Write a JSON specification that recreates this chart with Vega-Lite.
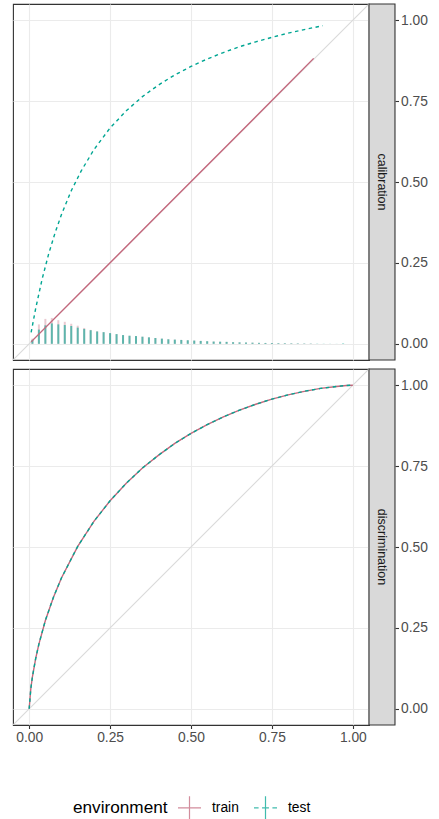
{
  "$schema": "https://vega.github.io/schema/vega-lite/v6.json",
  "padding": {"left": 12, "top": 2, "right": 5, "bottom": 0},
  "background": "white",
  "config": {
    "font": "Liberation Sans",
    "view": {"stroke": "#333333", "strokeWidth": 1.1},
    "concat": {"spacing": 5},
    "axis": {"gridColor": "#EBEBEB", "gridWidth": 1.1, "tickColor": "#333333", "tickSize": 3.5, "tickWidth": 1.1, "labelColor": "#4D4D4D", "labelFontSize": 13.8, "labelFont": "Liberation Sans", "domain": false, "labelPadding": 2}
  },
  "datasets": {
    "diag": [{"x": -0.05, "y": -0.05}, {"x": 1.05, "y": 1.05}],
    "calib": [
      {"env": "train", "x": 0.006, "y": 0.006}, {"env": "train", "x": 0.2, "y": 0.2}, {"env": "train", "x": 0.4, "y": 0.401}, {"env": "train", "x": 0.6, "y": 0.601}, {"env": "train", "x": 0.879, "y": 0.882},
      {"env": "test", "x": 0.006, "y": 0.035}, {"env": "test", "x": 0.02, "y": 0.109}, {"env": "test", "x": 0.04, "y": 0.2}, {"env": "test", "x": 0.06, "y": 0.277}, {"env": "test", "x": 0.08, "y": 0.343}, {"env": "test", "x": 0.1, "y": 0.4}, {"env": "test", "x": 0.13, "y": 0.473}, {"env": "test", "x": 0.16, "y": 0.533}, {"env": "test", "x": 0.2, "y": 0.6}, {"env": "test", "x": 0.25, "y": 0.667}, {"env": "test", "x": 0.3, "y": 0.72}, {"env": "test", "x": 0.35, "y": 0.764}, {"env": "test", "x": 0.4, "y": 0.8}, {"env": "test", "x": 0.45, "y": 0.831}, {"env": "test", "x": 0.5, "y": 0.857}, {"env": "test", "x": 0.55, "y": 0.88}, {"env": "test", "x": 0.6, "y": 0.9}, {"env": "test", "x": 0.65, "y": 0.918}, {"env": "test", "x": 0.7, "y": 0.933}, {"env": "test", "x": 0.75, "y": 0.947}, {"env": "test", "x": 0.8, "y": 0.96}, {"env": "test", "x": 0.85, "y": 0.971}, {"env": "test", "x": 0.907, "y": 0.983}
    ],
    "hist": [
      {"env": "train", "x": 0.01, "h": 0.016}, {"env": "train", "x": 0.03, "h": 0.06}, {"env": "train", "x": 0.05, "h": 0.077}, {"env": "train", "x": 0.07, "h": 0.08}, {"env": "train", "x": 0.09, "h": 0.073}, {"env": "train", "x": 0.11, "h": 0.068}, {"env": "train", "x": 0.13, "h": 0.062}, {"env": "train", "x": 0.15, "h": 0.056}, {"env": "train", "x": 0.17, "h": 0.049}, {"env": "train", "x": 0.19, "h": 0.043}, {"env": "train", "x": 0.21, "h": 0.039}, {"env": "train", "x": 0.23, "h": 0.036}, {"env": "train", "x": 0.25, "h": 0.033}, {"env": "train", "x": 0.27, "h": 0.03}, {"env": "train", "x": 0.29, "h": 0.027}, {"env": "train", "x": 0.31, "h": 0.025}, {"env": "train", "x": 0.33, "h": 0.024}, {"env": "train", "x": 0.35, "h": 0.022}, {"env": "train", "x": 0.37, "h": 0.02}, {"env": "train", "x": 0.39, "h": 0.018}, {"env": "train", "x": 0.41, "h": 0.016}, {"env": "train", "x": 0.43, "h": 0.014}, {"env": "train", "x": 0.45, "h": 0.013}, {"env": "train", "x": 0.47, "h": 0.012}, {"env": "train", "x": 0.49, "h": 0.011}, {"env": "train", "x": 0.51, "h": 0.01}, {"env": "train", "x": 0.53, "h": 0.009}, {"env": "train", "x": 0.55, "h": 0.008}, {"env": "train", "x": 0.57, "h": 0.007}, {"env": "train", "x": 0.59, "h": 0.0065}, {"env": "train", "x": 0.61, "h": 0.006}, {"env": "train", "x": 0.63, "h": 0.005}, {"env": "train", "x": 0.65, "h": 0.0045}, {"env": "train", "x": 0.67, "h": 0.004}, {"env": "train", "x": 0.69, "h": 0.0035}, {"env": "train", "x": 0.71, "h": 0.003}, {"env": "train", "x": 0.73, "h": 0.0027}, {"env": "train", "x": 0.75, "h": 0.0024}, {"env": "train", "x": 0.77, "h": 0.002}, {"env": "train", "x": 0.79, "h": 0.0018}, {"env": "train", "x": 0.81, "h": 0.0015}, {"env": "train", "x": 0.83, "h": 0.0013}, {"env": "train", "x": 0.85, "h": 0.0011}, {"env": "train", "x": 0.87, "h": 0.0009},
      {"env": "test", "x": 0.01, "h": 0.012}, {"env": "test", "x": 0.03, "h": 0.044}, {"env": "test", "x": 0.05, "h": 0.057}, {"env": "test", "x": 0.07, "h": 0.063}, {"env": "test", "x": 0.09, "h": 0.06}, {"env": "test", "x": 0.11, "h": 0.058}, {"env": "test", "x": 0.13, "h": 0.055}, {"env": "test", "x": 0.15, "h": 0.05}, {"env": "test", "x": 0.17, "h": 0.046}, {"env": "test", "x": 0.19, "h": 0.042}, {"env": "test", "x": 0.21, "h": 0.038}, {"env": "test", "x": 0.23, "h": 0.036}, {"env": "test", "x": 0.25, "h": 0.033}, {"env": "test", "x": 0.27, "h": 0.03}, {"env": "test", "x": 0.29, "h": 0.027}, {"env": "test", "x": 0.31, "h": 0.025}, {"env": "test", "x": 0.33, "h": 0.024}, {"env": "test", "x": 0.35, "h": 0.022}, {"env": "test", "x": 0.37, "h": 0.02}, {"env": "test", "x": 0.39, "h": 0.018}, {"env": "test", "x": 0.41, "h": 0.016}, {"env": "test", "x": 0.43, "h": 0.014}, {"env": "test", "x": 0.45, "h": 0.013}, {"env": "test", "x": 0.47, "h": 0.012}, {"env": "test", "x": 0.49, "h": 0.011}, {"env": "test", "x": 0.51, "h": 0.01}, {"env": "test", "x": 0.53, "h": 0.009}, {"env": "test", "x": 0.55, "h": 0.008}, {"env": "test", "x": 0.57, "h": 0.007}, {"env": "test", "x": 0.59, "h": 0.0065}, {"env": "test", "x": 0.61, "h": 0.006}, {"env": "test", "x": 0.63, "h": 0.005}, {"env": "test", "x": 0.65, "h": 0.0045}, {"env": "test", "x": 0.67, "h": 0.004}, {"env": "test", "x": 0.69, "h": 0.0035}, {"env": "test", "x": 0.71, "h": 0.003}, {"env": "test", "x": 0.73, "h": 0.0027}, {"env": "test", "x": 0.75, "h": 0.0024}, {"env": "test", "x": 0.77, "h": 0.002}, {"env": "test", "x": 0.79, "h": 0.0018}, {"env": "test", "x": 0.81, "h": 0.0015}, {"env": "test", "x": 0.83, "h": 0.0013}, {"env": "test", "x": 0.85, "h": 0.0011}, {"env": "test", "x": 0.87, "h": 0.0009}, {"env": "test", "x": 0.89, "h": 0.0007}, {"env": "test", "x": 0.91, "h": 0.0005}, {"env": "test", "x": 0.93, "h": 0.0004}, {"env": "test", "x": 0.95, "h": 0.0003}, {"env": "test", "x": 0.97, "h": 0.0015}
    ],
    "roc": [
      {"env": "train", "x": 0, "y": 0}, {"env": "train", "x": 0.005, "y": 0.062}, {"env": "train", "x": 0.01, "y": 0.099}, {"env": "train", "x": 0.02, "y": 0.155}, {"env": "train", "x": 0.03, "y": 0.2}, {"env": "train", "x": 0.05, "y": 0.273}, {"env": "train", "x": 0.075, "y": 0.345}, {"env": "train", "x": 0.1, "y": 0.405}, {"env": "train", "x": 0.15, "y": 0.502}, {"env": "train", "x": 0.2, "y": 0.579}, {"env": "train", "x": 0.25, "y": 0.643}, {"env": "train", "x": 0.3, "y": 0.697}, {"env": "train", "x": 0.35, "y": 0.744}, {"env": "train", "x": 0.4, "y": 0.784}, {"env": "train", "x": 0.45, "y": 0.82}, {"env": "train", "x": 0.5, "y": 0.851}, {"env": "train", "x": 0.55, "y": 0.878}, {"env": "train", "x": 0.6, "y": 0.902}, {"env": "train", "x": 0.65, "y": 0.923}, {"env": "train", "x": 0.7, "y": 0.941}, {"env": "train", "x": 0.75, "y": 0.957}, {"env": "train", "x": 0.8, "y": 0.97}, {"env": "train", "x": 0.85, "y": 0.981}, {"env": "train", "x": 0.9, "y": 0.99}, {"env": "train", "x": 0.95, "y": 0.996}, {"env": "train", "x": 0.98, "y": 0.999}, {"env": "train", "x": 1, "y": 1},
      {"env": "test", "x": 0, "y": 0}, {"env": "test", "x": 0.005, "y": 0.062}, {"env": "test", "x": 0.01, "y": 0.099}, {"env": "test", "x": 0.02, "y": 0.155}, {"env": "test", "x": 0.03, "y": 0.2}, {"env": "test", "x": 0.05, "y": 0.273}, {"env": "test", "x": 0.075, "y": 0.345}, {"env": "test", "x": 0.1, "y": 0.405}, {"env": "test", "x": 0.15, "y": 0.502}, {"env": "test", "x": 0.2, "y": 0.579}, {"env": "test", "x": 0.25, "y": 0.643}, {"env": "test", "x": 0.3, "y": 0.697}, {"env": "test", "x": 0.35, "y": 0.744}, {"env": "test", "x": 0.4, "y": 0.784}, {"env": "test", "x": 0.45, "y": 0.82}, {"env": "test", "x": 0.5, "y": 0.851}, {"env": "test", "x": 0.55, "y": 0.878}, {"env": "test", "x": 0.6, "y": 0.902}, {"env": "test", "x": 0.65, "y": 0.923}, {"env": "test", "x": 0.7, "y": 0.941}, {"env": "test", "x": 0.75, "y": 0.957}, {"env": "test", "x": 0.8, "y": 0.97}, {"env": "test", "x": 0.85, "y": 0.981}, {"env": "test", "x": 0.9, "y": 0.99}, {"env": "test", "x": 0.95, "y": 0.996}, {"env": "test", "x": 0.98, "y": 0.999}, {"env": "test", "x": 1, "y": 1}
    ]
  },
  "vconcat": [
    {
      "width": 356, "height": 356,
      "layer": [
        {"data": {"name": "diag"}, "mark": {"type": "line", "color": "#D9D9D9", "strokeWidth": 1.1, "clip": true},
         "encoding": {
           "x": {"field": "x", "type": "quantitative", "title": null, "scale": {"domain": [-0.05, 1.05], "nice": false, "zero": false}, "axis": {"values": [0, 0.25, 0.5, 0.75, 1], "labels": false, "ticks": false, "grid": true, "title": null}},
           "y": {"field": "y", "type": "quantitative", "title": null, "scale": {"domain": [-0.05, 1.05], "nice": false, "zero": false}, "axis": {"orient": "right", "offset": 26, "values": [0, 0.25, 0.5, 0.75, 1], "format": ".2f", "grid": true, "title": null}}
         }},
        {"data": {"name": "hist"}, "transform": [{"filter": "datum.env === 'train'"}], "mark": {"type": "rule", "strokeWidth": 2, "opacity": 0.35},
         "encoding": {"x": {"field": "x", "type": "quantitative", "title": null}, "y": {"field": "h", "type": "quantitative", "title": null}, "y2": {"datum": 0},
           "color": {"field": "env", "type": "nominal", "scale": {"domain": ["train", "test"], "range": ["#C4677C", "#00A693"]},
             "legend": {"title": "environment", "orient": "none", "legendX": 60, "legendY": 791, "direction": "horizontal", "titleOrient": "left", "titleFontSize": 17.2, "titleFontWeight": "normal", "titleColor": "#000000", "titleBaseline": "middle", "titlePadding": 9, "labelFontSize": 13.8, "labelColor": "#000000", "labelOffset": 10, "columnPadding": 12, "symbolSize": 529, "symbolStrokeWidth": 1.2, "symbolOpacity": 0.75, "symbolFillColor": "transparent", "symbolType": "M-1,0H1M0,-1V1",
               "encode": {"symbols": {"update": {"shape": {"signal": "datum.value === 'test' ? 'M-1,0H-0.6M-0.3,0H0.3M0.6,0H1M0,-1V1' : 'M-1,0H1M0,-1V1'"}, "strokeDash": {"value": []}}}}}}
         }},
        {"data": {"name": "hist"}, "transform": [{"filter": "datum.env === 'test'"}], "mark": {"type": "rule", "strokeWidth": 2, "opacity": 0.6},
         "encoding": {"x": {"field": "x", "type": "quantitative", "title": null}, "y": {"field": "h", "type": "quantitative", "title": null}, "y2": {"datum": 0}, "color": {"field": "env", "type": "nominal"}}},
        {"data": {"name": "calib"}, "transform": [{"filter": "datum.env === 'train'"}], "mark": {"type": "line", "strokeWidth": 1.4},
         "encoding": {"x": {"field": "x", "type": "quantitative", "title": null}, "y": {"field": "y", "type": "quantitative", "title": null}, "color": {"field": "env", "type": "nominal"}}},
        {"data": {"name": "calib"}, "transform": [{"filter": "datum.env === 'test'"}], "mark": {"type": "line", "strokeWidth": 1.4, "strokeDash": [3.5, 3.5]},
         "encoding": {"x": {"field": "x", "type": "quantitative", "title": null}, "y": {"field": "y", "type": "quantitative", "title": null}, "color": {"field": "env", "type": "nominal"}}},
        {"data": {"values": [{"panel": "calibration"}]}, "mark": {"type": "rect", "fill": "#D9D9D9", "stroke": "#333333", "strokeWidth": 1.1},
         "encoding": {"x": {"datum": 1.05}, "x2": {"datum": 1.1303}, "y": {"datum": -0.05}, "y2": {"datum": 1.05}}},
        {"data": {"values": [{"panel": "calibration"}]}, "mark": {"type": "text", "angle": 90, "align": "center", "baseline": "middle", "fontSize": 12.5, "color": "#1A1A1A"},
         "encoding": {"x": {"datum": 1.0902}, "y": {"datum": 0.5}, "text": {"field": "panel"}}}
      ]
    },
    {
      "width": 356, "height": 356,
      "layer": [
        {"data": {"name": "diag"}, "mark": {"type": "line", "color": "#D9D9D9", "strokeWidth": 1.1, "clip": true},
         "encoding": {
           "x": {"field": "x", "type": "quantitative", "title": null, "scale": {"domain": [-0.05, 1.05], "nice": false, "zero": false}, "axis": {"values": [0, 0.25, 0.5, 0.75, 1], "format": ".2f", "grid": true, "title": null}},
           "y": {"field": "y", "type": "quantitative", "title": null, "scale": {"domain": [-0.05, 1.05], "nice": false, "zero": false}, "axis": {"orient": "right", "offset": 26, "values": [0, 0.25, 0.5, 0.75, 1], "format": ".2f", "grid": true, "title": null}}
         }},
        {"data": {"name": "roc"}, "transform": [{"filter": "datum.env === 'train'"}], "mark": {"type": "line", "strokeWidth": 1.4},
         "encoding": {"x": {"field": "x", "type": "quantitative", "title": null}, "y": {"field": "y", "type": "quantitative", "title": null}, "color": {"field": "env", "type": "nominal"}}},
        {"data": {"name": "roc"}, "transform": [{"filter": "datum.env === 'test'"}], "mark": {"type": "line", "strokeWidth": 1.4, "strokeDash": [3.5, 3.5]},
         "encoding": {"x": {"field": "x", "type": "quantitative", "title": null}, "y": {"field": "y", "type": "quantitative", "title": null}, "color": {"field": "env", "type": "nominal"}}},
        {"data": {"values": [{"panel": "discrimination"}]}, "mark": {"type": "rect", "fill": "#D9D9D9", "stroke": "#333333", "strokeWidth": 1.1},
         "encoding": {"x": {"datum": 1.05}, "x2": {"datum": 1.1303}, "y": {"datum": -0.05}, "y2": {"datum": 1.05}}},
        {"data": {"values": [{"panel": "discrimination"}]}, "mark": {"type": "text", "angle": 90, "align": "center", "baseline": "middle", "fontSize": 12.5, "color": "#1A1A1A"},
         "encoding": {"x": {"datum": 1.0902}, "y": {"datum": 0.5}, "text": {"field": "panel"}}}
      ]
    }
  ]
}
